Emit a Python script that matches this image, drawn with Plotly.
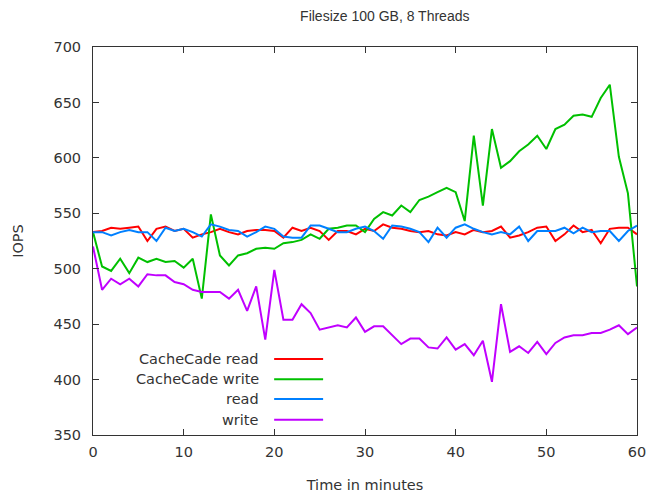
import plotly.graph_objects as go

minutes = list(range(61))
cachecade_read = [533, 534, 537, 536, 537, 538, 525, 536, 538, 534, 536, 528, 531, 533, 536, 533, 531, 534, 535, 535,
                  534, 528, 537, 534, 537, 534, 526, 534, 534, 531, 536, 534, 540, 537, 536, 534, 533, 534, 531, 530,
                  533, 531, 535, 533, 534, 538, 528, 530, 533, 537, 538, 525, 531, 539, 533, 535, 523, 536, 537, 537, 531]
cachecade_write = [533, 502, 498, 509, 496, 510, 506, 509, 506, 507, 501, 509, 473, 549, 512, 503, 512, 514, 518, 519,
                   518, 523, 524, 526, 531, 527, 536, 537, 539, 539, 533, 545, 551, 548, 557, 551, 562, 565, 569, 573,
                   569, 543, 620, 557, 626, 591, 597, 606, 612, 620, 608, 626, 630, 638, 639, 637, 654, 666, 601, 568, 484]
plain_read = [533, 533, 530, 533, 535, 533, 533, 525, 537, 534, 536, 533, 529, 540, 538, 535, 534, 529, 533, 538,
              536, 529, 528, 528, 539, 539, 536, 533, 533, 536, 538, 534, 527, 539, 538, 536, 533, 524, 537, 528,
              537, 540, 536, 533, 531, 533, 531, 538, 525, 534, 534, 534, 537, 532, 537, 533, 534, 534, 525, 534, 539]
plain_write = [520, 481, 491, 486, 491, 484, 495, 494, 494, 488, 486, 481, 479, 479, 479, 473, 481, 462, 484, 436,
               499, 454, 454, 468, 460, 445, 447, 449, 447, 456, 443, 448, 448, 440, 432, 437, 437, 429, 428, 438,
               427, 432, 422, 435, 398, 468, 425, 430, 424, 434, 423, 433, 438, 440, 440, 442, 442, 445, 449, 441, 447]

names = ["CacheCade read", "CacheCade write", "read", "write"]
series = [cachecade_read, cachecade_write, plain_read, plain_write]
colors = ["#ff0000", "#00c000", "#0080ff", "#c000ff"]

x_ticks = [0, 10, 20, 30, 40, 50, 60]
y_ticks = [350, 400, 450, 500, 550, 600, 650, 700]

FONT = "DejaVu Sans, Verdana, sans-serif"
TXT = "#333333"

fig = go.Figure()
for name, ys, c in zip(names, series, colors):
    fig.add_trace(go.Scatter(x=minutes, y=ys, mode="lines", name=name,
                             line=dict(color=c, width=2), showlegend=False))

# gnuplot-style legend: right-aligned text followed by a line sample
leg_y = [0.196, 0.144, 0.093, 0.039]
for name, c, ly in zip(names, colors, leg_y):
    fig.add_annotation(x=0.309, y=ly, xref="paper", yref="paper", text=name, showarrow=False,
                       xanchor="right", yanchor="middle", font=dict(family=FONT, size=14.5, color=TXT))
    fig.add_shape(type="line", xref="paper", yref="paper", x0=0.333, x1=0.423, y0=ly, y1=ly,
                  line=dict(color=c, width=2))

axis_common = dict(showgrid=False, zeroline=False, showline=True, linecolor="#333333", linewidth=1,
                   mirror="ticks", ticks="inside", ticklen=6, tickcolor="#333333", automargin=False,
                   tickfont=dict(family=FONT, size=14.5, color=TXT))

fig.update_layout(
    width=650, height=493,
    margin=dict(l=93, r=13, t=47, b=58),
    paper_bgcolor="white", plot_bgcolor="white",
    title=dict(text="Filesize 100 GB, 8 Threads", x=0.592, xanchor="center", y=0.968, yanchor="middle",
               font=dict(family="Liberation Sans, Arial, sans-serif", size=14, color=TXT)),
    xaxis=dict(range=[0, 60], tickvals=x_ticks, ticklabelstandoff=4,
               title=dict(text="Time in minutes", standoff=21,
                          font=dict(family=FONT, size=14.5, color=TXT)),
               **axis_common),
    yaxis=dict(range=[350, 700], tickvals=y_ticks, ticklabelstandoff=8,
               title=dict(text="IOPS", standoff=26,
                          font=dict(family=FONT, size=14.5, color=TXT)),
               **axis_common),
    font=dict(family=FONT),
)

fig.write_html("out.html")
